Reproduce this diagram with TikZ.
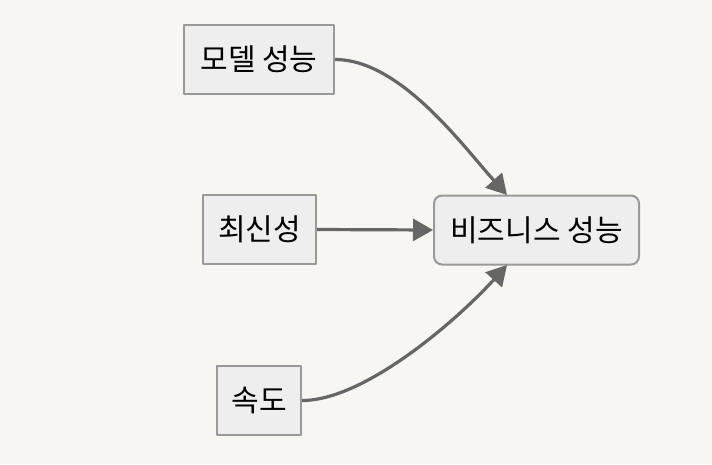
\documentclass[tikz,border=0pt]{standalone}
\usepackage{fontspec}
\setmainfont{Noto Sans CJK KR}
\usetikzlibrary{arrows.meta}
\definecolor{bgcol}{HTML}{F7F6F2}
\definecolor{boxfill}{HTML}{EEEEEE}
\definecolor{boxline}{HTML}{999999}
\definecolor{linkcol}{HTML}{666666}
\tikzset{
  factor/.style={draw=boxline,fill=boxfill,line width=1.5pt,minimum height=51.75pt,inner sep=0pt,font=\fontsize{22.5}{27}\selectfont},
  target/.style={factor,rounded corners=6pt},
  link/.style={draw=linkcol,line width=2.4pt,-{Triangle[length=15pt,width=16.5pt]}},
}
\begin{document}
\begin{tikzpicture}[x=0.75pt,y=-0.75pt,line join=round]
	\fill[bgcol] (0,0) rectangle (712,464);
	\useasboundingbox (0,0) rectangle (712,464);
	\node[factor,minimum width=112.5pt] (model) at (259,59.5) {모델 성능};
	\node[factor,minimum width=84.75pt] (recent) at (259.5,229.5) {최신성};
	\node[factor,minimum width=63pt] (speed) at (259,400.5) {속도};
	\node[target,minimum width=153.75pt] (biz) at (536.5,230) {비즈니스 성능};
	\coordinate (bizN) at (507,195);
	\coordinate (bizS) at (507,265);
	% links into business
	\draw[link] (model.east) .. controls +(65,0) and +(-45,-50) .. (bizN);
	\draw[link] (recent.east) -- (biz.west);
	\draw[link] (speed.east) .. controls +(65,0) and +(-45,50) .. (bizS);
\end{tikzpicture}
\end{document}
